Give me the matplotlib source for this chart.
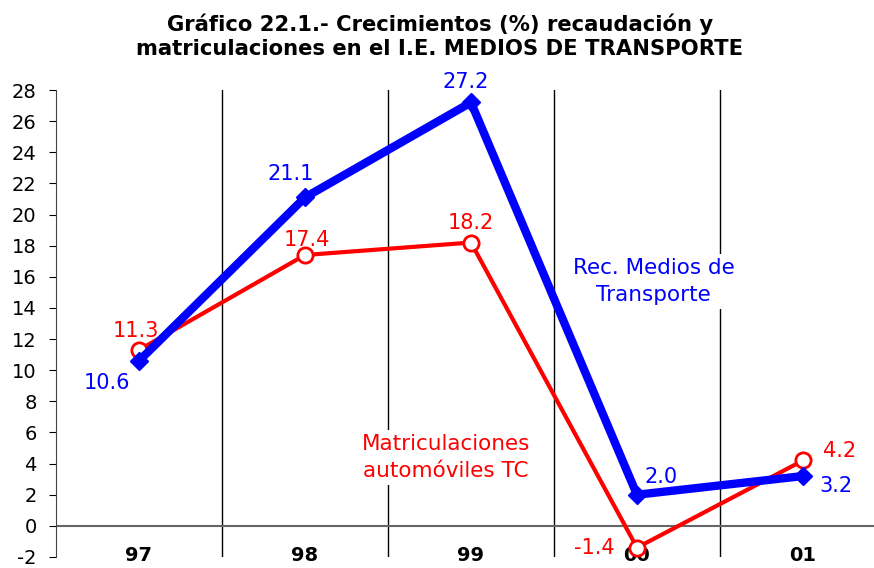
import numpy as np
import matplotlib
matplotlib.use("Agg")
import matplotlib.pyplot as plt

# data
years = ["97", "98", "99", "00", "01"]
rec_medios = [10.6, 21.1, 27.2, 2.0, 3.2]
matriculaciones = [11.3, 17.4, 18.2, -1.4, 4.2]

# label offsets (points) for each value
rec_off = [(-23, -16), (-10, 17), (-4, 15), (17, 13), (24, -7)]
mat_off = [(-2, 14), (1, 11), (0, 14), (-31, 0), (26, 7)]

BLUE = "#0000ff"
RED = "#ff0000"

plt.rcParams["font.family"] = "DejaVu Sans"
plt.rcParams["axes.unicode_minus"] = False

fig = plt.figure(figsize=(8.74, 5.68), dpi=100)
ax = fig.add_axes([56 / 874, 11 / 568, 1 - 56 / 874, 467 / 568])

x = np.arange(len(years))

ax.set_xlim(-0.5, -0.5 + 818 / 166)
ax.set_ylim(-2, 28)

# vertical separators and zero line
for xv in x[:-1] + 0.5:
    ax.plot([xv, xv], [-2, 28], color="black", lw=1, zorder=1)
ax.axhline(0, color="#666666", lw=1.5, zorder=1)

ax.plot(x, matriculaciones, color=RED, lw=3, marker="o", ms=11,
        mfc="white", mec=RED, mew=2, zorder=3)
ax.plot(x, rec_medios, color=BLUE, lw=6, marker="D", ms=9,
        mfc=BLUE, mec=BLUE, zorder=4)

for xi, v, off in zip(x, rec_medios, rec_off):
    ax.annotate(f"{v:.1f}", (xi, v), xytext=off, textcoords="offset points",
                ha="center", va="center", color=BLUE, fontsize=15, zorder=5)
for xi, v, off in zip(x, matriculaciones, mat_off):
    ax.annotate(f"{v:.1f}", (xi, v), xytext=off, textcoords="offset points",
                ha="center", va="center", color=RED, fontsize=15, zorder=5)

ax.text(3.10, 15.7, "Rec. Medios de\nTransporte", color=BLUE, fontsize=15.5,
        ha="center", va="center", linespacing=1.45,
        bbox=dict(facecolor="white", edgecolor="none", pad=3), zorder=2)
ax.text(1.85, 4.4, "Matriculaciones\nautomóviles TC", color=RED, fontsize=15.5,
        ha="center", va="center", linespacing=1.45,
        bbox=dict(facecolor="white", edgecolor="none", pad=3), zorder=2)

ax.set_yticks(np.arange(-2, 29, 2))
ax.tick_params(axis="y", labelsize=14, length=5, direction="out", pad=9)
ax.set_xticks(x)
ax.set_xticklabels(years, fontsize=14, fontweight="bold")
ax.tick_params(axis="x", length=0, pad=-8)

for s in ["top", "right", "bottom"]:
    ax.spines[s].set_visible(False)
ax.spines["left"].set_color("#444444")

fig.text(0.503, 0.936, "Gráfico 22.1.- Crecimientos (%) recaudación y\n"
         "matriculaciones en el I.E. MEDIOS DE TRANSPORTE",
         ha="center", va="center", fontsize=15.2, fontweight="bold",
         linespacing=1.25)

fig.savefig("out.png", dpi=100)
